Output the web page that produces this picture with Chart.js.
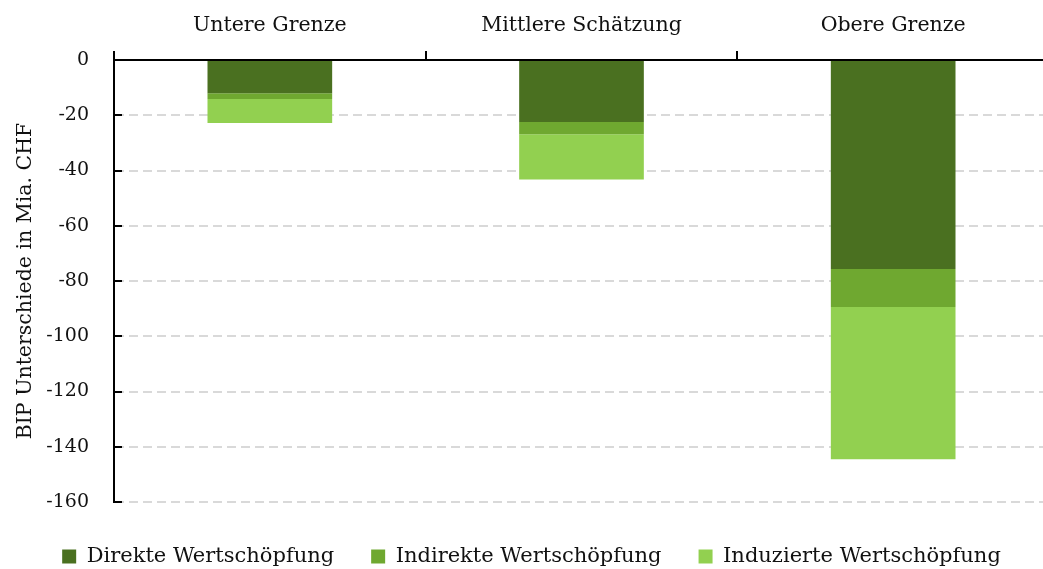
<!DOCTYPE html>
<html>
<head>
<meta charset="utf-8">
<script src="https://cdn.jsdelivr.net/npm/chart.js@4.4.1/dist/chart.umd.min.js"></script>
<style>
  html, body { margin: 0; padding: 0; background: #fff; overflow: hidden; }
  #wrap { width: 1050px; height: 569px; }
</style>
</head>
<body>
<div id="wrap"><canvas id="chart"></canvas></div>
<script>
// Daten (Mia. CHF)
const categories = ['Untere Grenze', 'Mittlere Schätzung', 'Obere Grenze'];
const direkt = [-12.0, -22.4, -75.7];
const indirekt = [-2.1, -4.5, -13.7];
const induziert = [-8.7, -16.4, -55.1];
const seriesNames = ['Direkte Wertschöpfung', 'Indirekte Wertschöpfung', 'Induzierte Wertschöpfung'];
const seriesColors = ['#4a7020', '#6fa830', '#92d050'];
const yTicks = [0, -20, -40, -60, -80, -100, -120, -140, -160];

const FONT = "'DejaVu Serif', 'Liberation Serif', serif";

// kleine Striche nach innen an der y-Achse
const innerTicks = {
  id: 'innerTicks',
  afterLayout(chart) {
    // Legende etwas nach unten/rechts schieben
    chart.legend.top += 7;
    chart.legend.bottom += 7;
    chart.legend.left += 7;
    chart.legend.right += 7;
  },
  afterDraw(chart) {
    const y = chart.scales.y;
    const ctx = chart.ctx;
    const left = chart.chartArea.left;
    ctx.save();
    ctx.strokeStyle = '#000';
    ctx.lineWidth = 2;
    yTicks.forEach(v => {
      const py = Math.round(y.getPixelForValue(v));
      ctx.beginPath();
      ctx.moveTo(left, py);
      ctx.lineTo(left + 8, py);
      ctx.stroke();
    });
    ctx.restore();
  }
};

const ds = [direkt, indirekt, induziert].map((d, i) => ({
  label: seriesNames[i],
  data: d,
  backgroundColor: seriesColors[i],
  borderWidth: 0,
  categoryPercentage: 1.0,
  barPercentage: 0.4
}));

new Chart(document.getElementById('chart'), {
  type: 'bar',
  data: { labels: categories, datasets: ds },
  options: {
    responsive: true,
    maintainAspectRatio: false,
    animation: false,
    layout: { padding: { left: 0, right: 1, top: 0, bottom: -1 } },
    plugins: {
      tooltip: { enabled: false },
      legend: {
        position: 'bottom',
        labels: {
          boxWidth: 14,
          boxHeight: 14,
          padding: 37,
          color: '#111',
          font: { family: FONT, size: 21 }
        }
      }
    },
    scales: {
      x: {
        position: 'top',
        stacked: true,
        border: { color: '#000', width: 2 },
        grid: {
          display: true,
          drawOnChartArea: false,
          color: '#000',
          lineWidth: 2,
          tickLength: 9,
          offset: true
        },
        ticks: { color: '#111', padding: 13, font: { family: FONT, size: 20.5 } },
        afterFit(s) { s.height = 60; }
      },
      y: {
        stacked: true,
        min: -160,
        max: 0,
        border: { color: '#000', width: 2, dash: [9, 5] },
        grid: {
          color: ctx => (ctx.tick && ctx.tick.value === 0) ? 'rgba(0,0,0,0)' : '#d9d9d9',
          lineWidth: 2,
          tickLength: 0
        },
        ticks: {
          stepSize: 20,
          color: '#111',
          padding: 25,
          font: { family: FONT, size: 19 }
        },
        title: {
          display: true,
          text: 'BIP Unterschiede in Mia. CHF',
          color: '#111',
          padding: { top: 13, bottom: 0 },
          font: { family: FONT, size: 20.5 }
        },
        afterFit(s) { s.width = 114; }
      }
    }
  },
  plugins: [innerTicks]
});
</script>
</body>
</html>
